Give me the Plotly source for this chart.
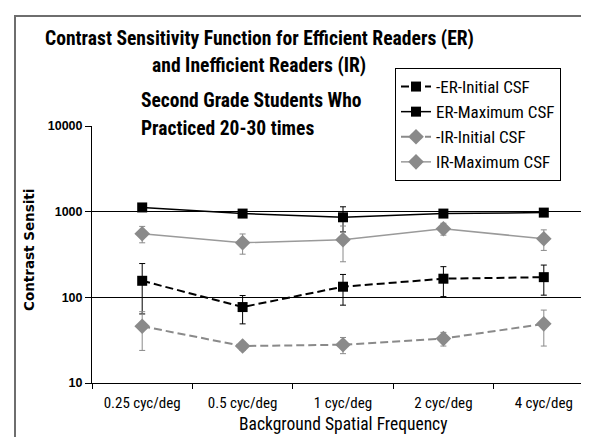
import plotly.graph_objects as go

categories = ["0.25 cyc/deg", "0.5 cyc/deg", "1 cyc/deg", "2 cyc/deg", "4 cyc/deg"]

er_initial = [156, 77, 133, 165, 172]
er_initial_err = [92, 28, 52, 63, 66]
er_maximum = [1120, 950, 860, 950, 975]
er_maximum_err = [50, 60, 280, 70, 70]
ir_initial = [46, 27, 28, 33, 49]
ir_initial_err = [22, 3, 6, 6, 22]
ir_maximum = [553, 434, 470, 632, 483]
ir_maximum_err = [120, 115, 210, 100, 130]

y_ticks = [10, 100, 1000, 10000]
y_grid = [100, 1000]

NARROW = "Roboto Condensed, DejaVu Sans Condensed, Liberation Sans Narrow, Arial Narrow, Noto Sans, sans-serif"
BLACK = "#000000"
GREY = "#8a8a8a"
GREY_LINE = "#9a9a9a"

fig = go.Figure()

def add(name, y, err, color, line_color, dash, symbol, size, lw):
    fig.add_trace(go.Scatter(
        x=categories, y=y, name=name, mode="lines+markers",
        line=dict(color=line_color, width=lw, dash=dash),
        marker=dict(symbol=symbol, size=size, color=color),
        error_y=dict(type="data", array=err, visible=True, color=color,
                     thickness=1, width=3),
    ))

add("-ER-Initial CSF", er_initial, er_initial_err, BLACK, BLACK, "8px,4px", "square", 10, 2)
add("ER-Maximum CSF", er_maximum, er_maximum_err, BLACK, BLACK, "solid", "square", 10, 1.5)
add("-IR-Initial CSF", ir_initial, ir_initial_err, GREY, GREY, "8px,4px", "diamond", 12, 2)
add("IR-Maximum CSF", ir_maximum, ir_maximum_err, GREY, GREY_LINE, "solid", "diamond", 12, 1.5)

W, H = 589, 437
L, R, T, B = 84, 586, 118, 375
pw, ph = R - L, B - T

def px(x):
    return (x - L) / pw

def py(y):
    return (B - y) / ph

fig.update_layout(
    width=W, height=H,
    margin=dict(l=L, r=W - R, t=T, b=H - B),
    paper_bgcolor="white", plot_bgcolor="white",
    showlegend=True,
    legend=dict(
        x=px(387), y=py(60), xanchor="left", yanchor="top",
        bgcolor="white", bordercolor="black", borderwidth=1,
        font=dict(family=NARROW, size=17, color="black"),
        itemwidth=30, tracegroupgap=0,
    ),
    xaxis=dict(
        type="category", range=[-0.5, 4.5],
        showline=True, linecolor="black", linewidth=1,
        ticks="outside", tickson="boundaries", ticklen=5, tickcolor="black",
        showgrid=False, zeroline=False,
        tickfont=dict(family=NARROW, size=15, color="black"),
        ticklabelstandoff=6,
    ),
    yaxis=dict(
        type="log", range=[1, 4],
        tickvals=y_ticks, ticktext=[str(v) for v in y_ticks],
        showline=True, linecolor="black", linewidth=1,
        ticks="outside", ticklen=6, tickcolor="black",
        showgrid=False, zeroline=False,
        tickfont=dict(family="Liberation Sans, Arial, sans-serif", size=12.5,
                      color="black", weight="bold"),
    ),
    yaxis2=dict(
        type="log", range=[1, 4], overlaying="y",
        tickvals=y_grid, showticklabels=False, ticks="",
        showgrid=True, gridcolor="black", gridwidth=1,
        showline=False, zeroline=False,
    ),
)

fig.add_trace(go.Scatter(x=[categories[0]], y=[y_grid[0]], yaxis="y2",
                         mode="markers", marker=dict(opacity=0),
                         showlegend=False, hoverinfo="skip"))

ann = [
    dict(text="Contrast Sensitivity Function for Efficient Readers (ER)",
         x=px(251), y=py(30), size=19.6, bold=True, anchor="center"),
    dict(text="and Inefficient Readers (IR)",
         x=px(251), y=py(58), size=19.6, bold=True, anchor="center"),
    dict(text="Second Grade Students Who",
         x=px(131), y=py(93), size=19.5, bold=True, anchor="left"),
    dict(text="Practiced 20-30 times",
         x=px(131), y=py(121), size=19.5, bold=True, anchor="left"),
    dict(text="Background Spatial Frequency",
         x=px(335), y=py(416), size=17.5, bold=False, anchor="center"),
]
for a in ann:
    fig.add_annotation(
        text=a["text"], xref="paper", yref="paper", x=a["x"], y=a["y"],
        xanchor=a["anchor"], yanchor="middle", showarrow=False,
        font=dict(family=NARROW, size=a["size"], color="black",
                  weight="bold" if a["bold"] else "normal"),
    )

fig.add_annotation(
    text="Contrast Sensiti", xref="paper", yref="paper",
    x=px(21), y=py(242), xanchor="center", yanchor="middle",
    textangle=-90, showarrow=False,
    font=dict(family="DejaVu Sans, sans-serif", size=13.5, color="black", weight="bold"),
)

fig.add_shape(type="rect", xref="paper", yref="paper",
              x0=px(7), x1=px(640), y0=py(500), y1=py(8),
              line=dict(color="#6e6e6e", width=2), layer="below")

fig.write_html("out.html")
